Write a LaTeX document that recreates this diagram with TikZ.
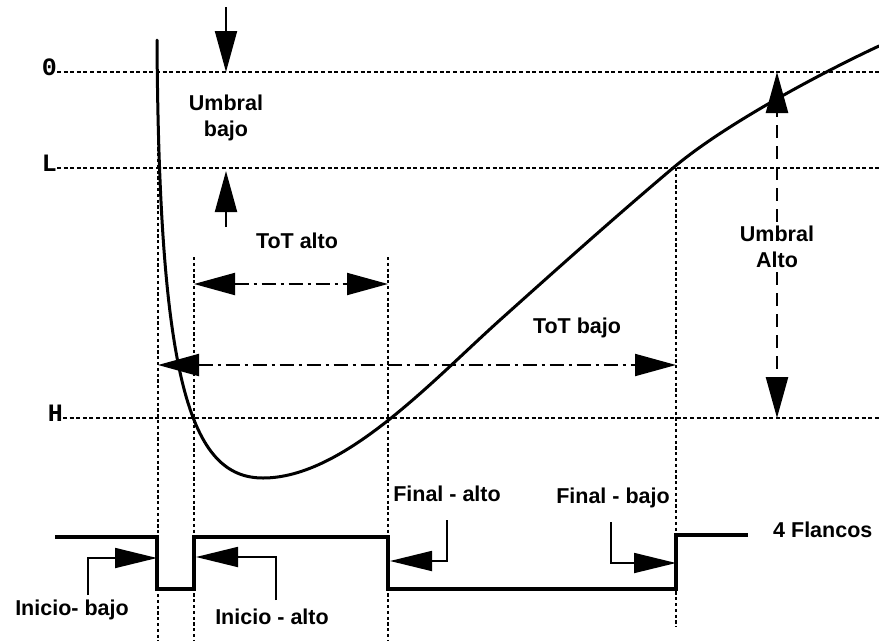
\documentclass[tikz,border=0pt]{standalone}
\usepackage{fontspec}
\setmainfont{Liberation Sans}
\newfontfamily\levelfont{Liberation Mono}
\usetikzlibrary{arrows.meta}
\tikzset{
  lbl/.style={font=\fontsize{21.5}{26}\selectfont\bfseries, inner sep=0pt, align=center},
  lvl/.style={font=\levelfont\fontsize{25}{25}\selectfont\bfseries, inner sep=0pt},
  dotline/.style={line width=1.7pt, dash pattern=on 4pt off 2.6pt},
  vdot/.style={line width=1.6pt, dash pattern=on 3.2pt off 2.6pt},
  dashdot/.style={line width=2pt, dash pattern=on 14pt off 5pt on 3pt off 5pt},
  longdash/.style={line width=2.6pt, dash pattern=on 13pt off 8pt},
  bigtip/.style={-{Triangle[length=41pt,width=22pt]}},
  bigtips/.style={{Triangle[length=41pt,width=22pt]}-{Triangle[length=41pt,width=22pt]}},
  calltip/.style={-{Triangle[length=42pt,width=20pt]}, line width=1.8pt},
  signal/.style={line width=3.5pt, line join=miter},
  curve/.style={line width=3pt, line cap=round}
}
\begin{document}
\begin{tikzpicture}[x=1pt,y=-1pt]
\useasboundingbox (0,0) rectangle (879,641);

% level labels and dotted level lines
\node[lvl, anchor=south east] (lO) at (57,76) {0};
\node[lvl, anchor=south east] (lL) at (57,172) {L};
\node[lvl, anchor=south east] (lH) at (63,422) {H};
\coordinate (Os) at (57,72);  \coordinate (Oe) at (879,72);
\coordinate (Ls) at (57,168); \coordinate (Le) at (879,168);
\coordinate (Hs) at (63,418); \coordinate (He) at (879,418);
\draw[dotline] (Os) -- (Oe);
\draw[dotline] (Ls) -- (Le);
\draw[dotline] (Hs) -- (He);

% vertical dotted lines
\coordinate (v1t) at (158,72);  \coordinate (v1b) at (158,641);
\coordinate (v2t) at (194,257); \coordinate (v2b) at (194,641);
\coordinate (v3t) at (388,257); \coordinate (v3b) at (388,641);
\coordinate (v4t) at (676,168); \coordinate (v4b) at (676,627);
\draw[vdot] (v1t) -- (v1b);
\draw[vdot] (v2t) -- (v2b);
\draw[vdot] (v3t) -- (v3b);
\draw[vdot] (v4t) -- (v4b);

% pulse curve
\draw[curve] (157,40) .. controls (159,380) and (190,478) .. (263,478)
  .. controls (343,478) and (430,383) .. (500,320)
  .. controls (558,268) and (615,217) .. (673,168)
  .. controls (723,125.5) and (819,74) .. (879,46);

% Umbral bajo
\node[lbl] (ub) at (226,118) {Umbral\\bajo};
\coordinate (ubt) at (226,7);
\coordinate (ubO) at (226,72);
\coordinate (ubb) at (226,227);
\coordinate (ubL) at (226,171);
\draw[bigtip, line width=2pt] (ubt) -- (ubO);
\draw[bigtip, line width=2pt] (ubb) -- (ubL);

% Umbral Alto
\node[lbl, fill=white, inner ysep=4pt] (ua) at (777,247) {Umbral\\Alto};
\coordinate (uaO) at (777,72);
\coordinate (uaH) at (777,418);
\draw[longdash, bigtip] (ua.north) -- (uaO);
\draw[longdash, bigtip] (ua.south) -- (uaH);

% ToT alto
\node[lbl] (ta) at (297,241) {ToT alto};
\coordinate (tal) at (194,284);
\coordinate (tar) at (388,284);
\draw[dashdot, bigtips] (tal) -- (tar);

% ToT bajo
\node[lbl] (tb) at (577,328) {ToT bajo};
\coordinate (tbl) at (158,365);
\coordinate (tbr) at (676,365);
\draw[dashdot, bigtips] (tbl) -- (tbr);

% digital signal
\coordinate (s0) at (55,537);
\coordinate (s1) at (748,535);
\draw[signal] (s0) -- (157,537) -- (157,589) -- (194,589) -- (194,537)
  -- (388,537) -- (388,589) -- (676,589) -- (676,535) -- (s1);
\node[lbl, anchor=west] (fl) at (773,530) {4 Flancos};

% callouts
\node[lbl] (ib) at (72,610) {Inicio- bajo};
\coordinate (ibs) at (88,595);
\coordinate (ibe) at (157,558);
\draw[calltip] (ibs) |- (ibe);

\node[lbl] (ia) at (272,617) {Inicio - alto};
\coordinate (ias) at (276,600);
\coordinate (iae) at (196,557);
\draw[calltip] (ias) |- (iae);

\node[lbl] (fa) at (447,494) {Final - alto};
\coordinate (fas) at (447,520);
\coordinate (fae) at (390,561);
\draw[calltip] (fas) |- (fae);

\node[lbl] (fb) at (613,498) {Final - bajo};
\coordinate (fbs) at (611,522);
\coordinate (fbe) at (676,563);
\draw[calltip] (fbs) |- (fbe);
\end{tikzpicture}
\end{document}
